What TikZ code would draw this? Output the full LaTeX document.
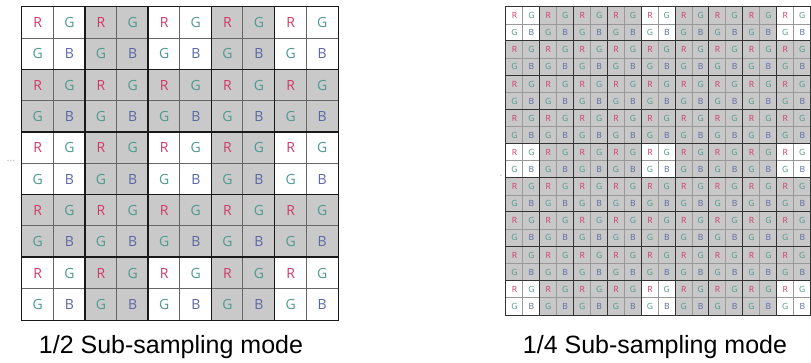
\documentclass[tikz,border=0pt]{standalone}
\usepackage{fontspec}
\setmainfont{Liberation Sans}
\newfontfamily\cellfont{Open Sans}
\definecolor{rc}{HTML}{D03A66}
\definecolor{gc}{HTML}{4E9A8E}
\definecolor{bc}{HTML}{5A67A6}
\definecolor{shadeL}{HTML}{C9C9C9}
\definecolor{shadeR}{HTML}{C8C8C8}
\newcommand\cellletter[1]{\ifcase#1\textcolor{rc}{R}\or\textcolor{gc}{G}\or\textcolor{gc}{G}\or\textcolor{bc}{B}\fi}
\tikzset{
  cellL/.style={inner sep=0pt, minimum width=23.7pt, minimum height=23.475pt, font=\cellfont\fontsize{10.5pt}{12pt}\selectfont},
  cellR/.style={inner sep=0pt, minimum width=12.7pt, minimum height=12.83pt, font=\cellfont\fontsize{6.4pt}{8pt}\selectfont},
  innerL/.style={draw=black!60, line width=0.7pt},
  blockL/.style={draw=black!90, line width=1.1pt},
  innerR/.style={draw=black!40, line width=0.5pt},
  blockR/.style={draw=black!80, line width=0.8pt},
  caption/.style={font=\fontsize{18.75pt}{21pt}\selectfont, anchor=base},
  faint/.style={text=black!30, font=\fontsize{8pt}{9pt}\selectfont}
}
\begin{document}
\begin{tikzpicture}[x=0.75pt,y=-0.75pt]
\useasboundingbox (0,0) rectangle (811,362);
% left grid (1/2 mode)
\foreach \r in {0,...,9}{\foreach \c in {0,...,9}{
  \pgfmathtruncatemacro{\w}{(mod(floor(\r/2),2)==0)&&(mod(floor(\c/2),2)==0)}
  \pgfmathtruncatemacro{\k}{2*mod(\r,2)+mod(\c,2)}
  \ifnum\w=1 \def\fc{white}\else\def\fc{shadeL}\fi
  \node[cellL,fill=\fc] (L-\r-\c) at ({22+31.6*(\c+0.5)},{7+31.3*(\r+0.5)}) {\cellletter{\k}};
}}
\foreach \c in {1,3,5,7,9}{\draw[innerL] (L-0-\c.north west) -- (L-9-\c.south west);}
\foreach \r in {1,3,5,7,9}{\draw[innerL] (L-\r-0.north west) -- (L-\r-9.north east);}
\foreach \c in {2,4,6,8}{\draw[blockL] (L-0-\c.north west) -- (L-9-\c.south west);}
\foreach \r in {2,4,6,8}{\draw[blockL] (L-\r-0.north west) -- (L-\r-9.north east);}
\draw[blockL] (L-0-0.north west) rectangle (L-9-9.south east);
% right grid (1/4 mode)
\foreach \r in {0,...,17}{\foreach \c in {0,...,17}{
  \pgfmathtruncatemacro{\w}{(mod(floor(\r/2),4)==0)&&(mod(floor(\c/2),4)==0)}
  \pgfmathtruncatemacro{\k}{2*mod(\r,2)+mod(\c,2)}
  \ifnum\w=1 \def\fc{white}\else\def\fc{shadeR}\fi
  \node[cellR,fill=\fc] (R-\r-\c) at ({506+16.93*(\c+0.5)},{7+17.1*(\r+0.5)}) {\cellletter{\k}};
}}
\foreach \c in {1,3,...,17}{\draw[innerR] (R-0-\c.north west) -- (R-17-\c.south west);}
\foreach \r in {1,3,...,17}{\draw[innerR] (R-\r-0.north west) -- (R-\r-17.north east);}
\foreach \c in {2,4,...,16}{\draw[blockR] (R-0-\c.north west) -- (R-17-\c.south west);}
\foreach \r in {2,4,...,16}{\draw[blockR] (R-\r-0.north west) -- (R-\r-17.north east);}
\draw[blockR] (R-0-0.north west) rectangle (R-17-17.south east);
% faint marks
\node[faint] (dotsL) at (11,161) {...};
\node[faint] (dotR) at (501,176) {.};
% captions
\node[caption] (capL) at (171,353) {1/2 Sub-sampling mode};
\node[caption] (capR) at (655,353) {1/4 Sub-sampling mode};
\end{tikzpicture}
\end{document}
